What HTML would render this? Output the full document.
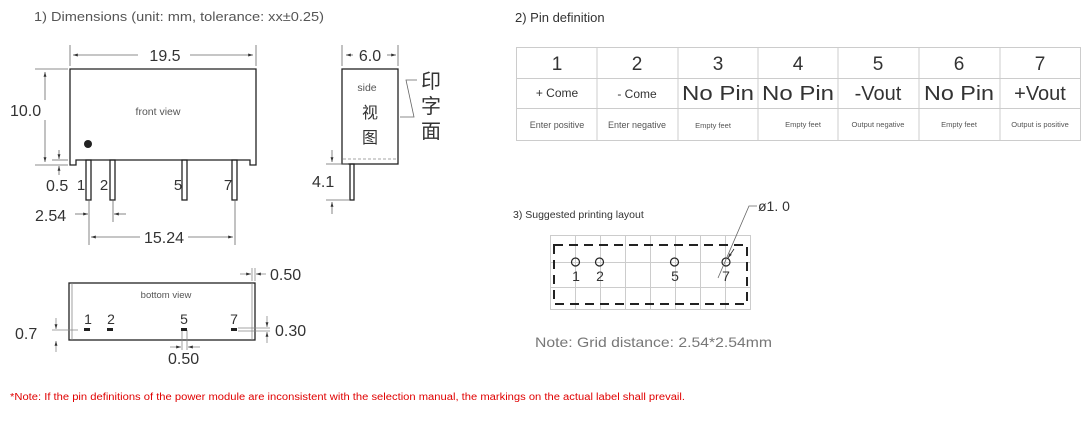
<!DOCTYPE html>
<html><head><meta charset="utf-8"><style>
html,body{margin:0;padding:0;background:#fff}
svg{display:block}
text{font-family:"Liberation Sans","Noto Sans CJK SC",sans-serif}
</style></head><body>
<svg width="1089" height="440" viewBox="0 0 1089 440" xmlns="http://www.w3.org/2000/svg">
<defs>
<marker id="a" viewBox="0 0 10 10" refX="10" refY="5" markerWidth="6" markerHeight="6" orient="auto-start-reverse"><path d="M0,2 L10,5 L0,8z" fill="#333"/></marker>
</defs>
<g fill="#555">
<text x="34" y="21" font-size="13" textLength="290" lengthAdjust="spacingAndGlyphs">1) Dimensions (unit: mm, tolerance: xx±0.25)</text>
<text x="515" y="22" font-size="13" fill="#333">2) Pin definition</text>
</g>
<!-- front view -->
<g stroke="#222" fill="none" stroke-width="1.3">
<path d="M70,69 H256 V165 H250 V160 H76 V165 H70 Z"/>
<rect x="86" y="160" width="5" height="40"/>
<rect x="110" y="160" width="5" height="40"/>
<rect x="182" y="160" width="5" height="40"/>
<rect x="232" y="160" width="5" height="40"/>
</g>
<circle cx="88" cy="144" r="4" fill="#222"/>
<text x="158" y="115" font-size="10.5" fill="#555" text-anchor="middle">front view</text>
<g font-size="15" fill="#333" text-anchor="middle">
<text x="81" y="190">1</text><text x="104" y="190">2</text><text x="178" y="190">5</text><text x="228" y="190">7</text>
</g>
<g stroke="#666" stroke-width="0.8" fill="none">
<line x1="70" y1="45" x2="70" y2="66"/><line x1="256" y1="45" x2="256" y2="66"/>
<line x1="73" y1="55" x2="138" y2="55" marker-start="url(#a)"/><line x1="190" y1="55" x2="253" y2="55" marker-end="url(#a)"/>
<line x1="35" y1="69" x2="68" y2="69"/><line x1="35" y1="165" x2="68" y2="165"/>
<line x1="45" y1="72" x2="45" y2="100" marker-start="url(#a)"/><line x1="45" y1="120" x2="45" y2="162" marker-end="url(#a)"/>
<line x1="52" y1="160" x2="68" y2="160"/>
<line x1="59" y1="150" x2="59" y2="159" marker-end="url(#a)"/><line x1="59" y1="175" x2="59" y2="166" marker-end="url(#a)"/>
<line x1="89" y1="200" x2="89" y2="245"/><line x1="113" y1="200" x2="113" y2="222"/><line x1="235" y1="200" x2="235" y2="245"/>
<line x1="75" y1="214" x2="88" y2="214" marker-end="url(#a)"/><line x1="126" y1="214" x2="114" y2="214" marker-end="url(#a)"/>
<line x1="91" y1="237" x2="140" y2="237" marker-start="url(#a)"/><line x1="188" y1="237" x2="233" y2="237" marker-end="url(#a)"/>
</g>
<g font-size="16" fill="#333">
<text x="165" y="61" text-anchor="middle">19.5</text>
<text x="10" y="116">10.0</text>
<text x="46" y="191">0.5</text>
<text x="35" y="221">2.54</text>
<text x="164" y="243" text-anchor="middle">15.24</text>
</g>
<!-- side view -->
<g stroke="#222" fill="none" stroke-width="1.3">
<rect x="342" y="69" width="56" height="95"/>
<rect x="350" y="164" width="4" height="36"/>
</g>
<line x1="343" y1="159" x2="397" y2="159" stroke="#888" stroke-dasharray="3,2" stroke-width="0.8"/>
<g stroke="#666" stroke-width="0.8" fill="none">
<line x1="342" y1="45" x2="342" y2="66"/><line x1="398" y1="45" x2="398" y2="66"/>
<line x1="346" y1="55" x2="353" y2="55" marker-start="url(#a)"/><line x1="387" y1="55" x2="396" y2="55" marker-end="url(#a)"/>
<path d="M417,80 H406 L414,117 H400"/>
<line x1="326" y1="164" x2="348" y2="164"/><line x1="326" y1="200" x2="350" y2="200"/>
<line x1="332" y1="150" x2="332" y2="162" marker-end="url(#a)"/><line x1="332" y1="214" x2="332" y2="202" marker-end="url(#a)"/>
</g>
<text x="367" y="91" font-size="10.5" fill="#555" text-anchor="middle">side</text>
<g font-size="16" fill="#333" text-anchor="middle">
<text x="370" y="118">视</text><text x="370" y="143">图</text>
</g>
<g font-size="20" fill="#333" text-anchor="middle">
<text x="431" y="88">印</text><text x="431" y="113">字</text><text x="431" y="138">面</text>
</g>
<g font-size="16" fill="#333">
<text x="370" y="61" text-anchor="middle">6.0</text>
<text x="312" y="187">4.1</text>
</g>
<!-- bottom view -->
<g stroke="#222" fill="none" stroke-width="1.3">
<rect x="69" y="283" width="186" height="57"/>
</g>
<g stroke="#888" stroke-width="0.8" fill="none">
<line x1="72" y1="283" x2="72" y2="340"/><line x1="252" y1="283" x2="252" y2="340"/>
<line x1="252" y1="268" x2="252" y2="281"/><line x1="255" y1="268" x2="255" y2="281"/>
<line x1="240" y1="274" x2="251" y2="274" marker-end="url(#a)"/><line x1="266" y1="274" x2="256" y2="274" marker-end="url(#a)"/>
<line x1="52" y1="330" x2="78" y2="330"/>
<line x1="56" y1="318" x2="56" y2="329" marker-end="url(#a)"/><line x1="56" y1="352" x2="56" y2="341" marker-end="url(#a)"/>
<line x1="182" y1="330" x2="182" y2="350"/><line x1="187" y1="330" x2="187" y2="350"/>
<line x1="170" y1="347" x2="181" y2="347" marker-end="url(#a)"/><line x1="200" y1="347" x2="188" y2="347" marker-end="url(#a)"/>
<line x1="238" y1="328" x2="270" y2="328"/><line x1="238" y1="331" x2="270" y2="331"/>
<line x1="267" y1="316" x2="267" y2="327" marker-end="url(#a)"/><line x1="267" y1="343" x2="267" y2="332" marker-end="url(#a)"/>
</g>
<g fill="#222">
<rect x="84" y="328" width="6" height="3"/><rect x="107" y="328" width="6" height="3"/><rect x="181" y="328" width="6" height="3"/><rect x="231" y="328" width="6" height="3"/>
</g>
<text x="166" y="298" font-size="9.5" fill="#555" text-anchor="middle">bottom view</text>
<g font-size="14" fill="#333" text-anchor="middle">
<text x="88" y="324">1</text><text x="111" y="324">2</text><text x="184" y="324">5</text><text x="234" y="324">7</text>
</g>
<g font-size="16" fill="#333">
<text x="270" y="280">0.50</text>
<text x="15" y="339">0.7</text>
<text x="275" y="336">0.30</text>
<text x="168" y="364">0.50</text>
</g>
<!-- table -->
<g stroke="#ccc" stroke-width="1" fill="none">
<rect x="516.5" y="47.5" width="564" height="93"/>
<line x1="516" y1="78.5" x2="1080" y2="78.5"/><line x1="516" y1="108.5" x2="1080" y2="108.5"/>
<line x1="597" y1="47" x2="597" y2="140"/><line x1="678" y1="47" x2="678" y2="140"/><line x1="758" y1="47" x2="758" y2="140"/>
<line x1="838" y1="47" x2="838" y2="140"/><line x1="919" y1="47" x2="919" y2="140"/><line x1="1000" y1="47" x2="1000" y2="140"/>
</g>
<g fill="#333" text-anchor="middle">
<g font-size="19">
<text x="557" y="70">1</text><text x="637" y="70">2</text><text x="718" y="70">3</text><text x="798" y="70">4</text><text x="878" y="70">5</text><text x="959" y="70">6</text><text x="1040" y="70">7</text>
</g>
<g font-size="12"><text x="557" y="97">+ Come</text><text x="637" y="98">- Come</text></g>
<g font-size="20">
<text x="718" y="100" textLength="72" lengthAdjust="spacingAndGlyphs">No Pin</text><text x="798" y="100" textLength="72" lengthAdjust="spacingAndGlyphs">No Pin</text><text x="878" y="100">-Vout</text><text x="959" y="100" textLength="70" lengthAdjust="spacingAndGlyphs">No Pin</text><text x="1040" y="100">+Vout</text>
</g>
<g font-size="9" fill="#555">
<text x="557" y="128">Enter positive</text><text x="637" y="128">Enter negative</text>
</g>
<g font-size="7.5" fill="#555">
<text x="713" y="128">Empty feet</text><text x="803" y="127">Empty feet</text><text x="878" y="127">Output negative</text><text x="959" y="127">Empty feet</text><text x="1040" y="127">Output is positive</text>
</g>
</g>
<!-- layout -->
<text x="513" y="218" font-size="10.5" fill="#333">3) Suggested printing layout</text>
<g stroke="#ccc" stroke-width="1" fill="none">
<rect x="550.5" y="235.5" width="200" height="74"/>
<line x1="550" y1="262.5" x2="750" y2="262.5"/><line x1="550" y1="287.5" x2="750" y2="287.5"/>
<line x1="575.5" y1="235" x2="575.5" y2="310"/><line x1="600.5" y1="235" x2="600.5" y2="310"/><line x1="625.5" y1="235" x2="625.5" y2="310"/>
<line x1="650.5" y1="235" x2="650.5" y2="310"/><line x1="675.5" y1="235" x2="675.5" y2="310"/><line x1="700.5" y1="235" x2="700.5" y2="310"/><line x1="725.5" y1="235" x2="725.5" y2="310"/>
</g>
<rect x="554" y="245" width="193" height="59" fill="none" stroke="#222" stroke-width="2" stroke-dasharray="9,6"/>
<g fill="none" stroke="#222" stroke-width="1.2">
<circle cx="575.5" cy="262" r="4"/><circle cx="599.5" cy="262" r="4"/><circle cx="674.5" cy="262" r="4"/><circle cx="726" cy="262" r="4"/>
</g>
<path d="M718,278 L749,206 H757" stroke="#666" stroke-width="0.8" fill="none"/>
<path d="M734,249 L728,258" stroke="#222" stroke-width="0.8" marker-end="url(#a)"/>
<g font-size="14" fill="#333" text-anchor="middle">
<text x="576" y="281">1</text><text x="600" y="281">2</text><text x="675" y="281">5</text><text x="726" y="281">7</text>
</g>
<text x="758" y="211" font-size="14" fill="#333">ø1. 0</text>
<text x="535" y="347" font-size="14" fill="#777" textLength="237" lengthAdjust="spacingAndGlyphs">Note: Grid distance: 2.54*2.54mm</text>
<text x="10" y="400" font-size="10" fill="#e00000" textLength="675" lengthAdjust="spacingAndGlyphs">*Note: If the pin definitions of the power module are inconsistent with the selection manual, the markings on the actual label shall prevail.</text>
</svg>
</body></html>
